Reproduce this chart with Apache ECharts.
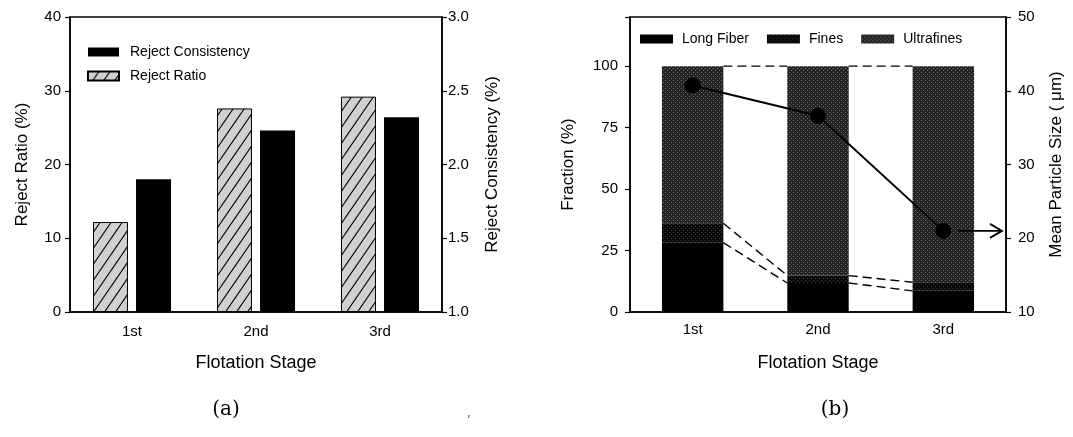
<!DOCTYPE html>
<html>
<head>
<meta charset="utf-8">
<title>Flotation stage</title>
<script src="https://cdn.jsdelivr.net/npm/echarts@6/dist/echarts.min.js"></script>
<style>
  html, body { margin: 0; padding: 0; background: #fff; }
  #chart { width: 1073px; height: 437px; }
</style>
</head>
<body>
<div id="chart"></div>
<script>
const stages = ['1st', '2nd', '3rd']
// (a) reject stream
const rejectRatio = [12.2, 27.6, 29.2]
const rejectConsistency = [1.9, 2.23, 2.32]
// (b) fractions of the reject (%) and mean particle size (um)
const longFiber = [28.2, 11.8, 8.6]
const fines = [7.9, 3.0, 3.5]
const ultrafines = [63.9, 85.2, 87.9]
const meanSize = [40.7, 36.6, 21.0]
const fractionTicks = [0, 25, 50, 75, 100]

const FONT = 'Liberation Sans, Arial, sans-serif'
const BAR_RATIO = 0.49

// hatched fill for reject ratio
function hatch() {
  const c = document.createElement('canvas')
  c.width = 11
  c.height = 16
  const g = c.getContext('2d')
  g.fillStyle = '#d0d0d0'
  g.fillRect(0, 0, 11, 16)
  g.strokeStyle = '#000'
  g.lineWidth = 1.1
  g.beginPath()
  for (let k = -1; k <= 1; k++) {
    g.moveTo(k * 11, 16)
    g.lineTo(k * 11 + 11, 0)
  }
  g.stroke()
  return { image: c, repeat: 'repeat' }
}

// dotted dark fill (scanned stipple look)
function stipple(base, dot) {
  const c = document.createElement('canvas')
  c.width = 4
  c.height = 4
  const g = c.getContext('2d')
  g.fillStyle = base
  g.fillRect(0, 0, 4, 4)
  g.fillStyle = dot
  g.fillRect(1, 0, 1, 1)
  g.fillRect(3, 2, 1, 1)
  return { image: c, repeat: 'repeat' }
}

// dashed connectors between the stack boundaries of neighbouring bars
const levels = [
  longFiber,
  longFiber.map((v, i) => v + fines[i]),
  longFiber.map((v, i) => v + fines[i] + ultrafines[i])
]
const links = []
levels.forEach(lv => {
  for (let i = 0; i < lv.length - 1; i++) links.push([i, lv[i], lv[i + 1]])
})

const last = meanSize.length - 1

const axisText = { color: '#000', fontSize: 15, fontFamily: FONT }
const nameText = { color: '#000', fontSize: 17, fontFamily: FONT }
const blackLine = { show: true, lineStyle: { color: '#000', width: 1.5 } }

function catAxis(grid, margin) {
  return {
    type: 'category',
    gridIndex: grid,
    data: stages,
    axisTick: { show: false },
    axisLine: blackLine,
    axisLabel: Object.assign({ margin: margin }, axisText),
    name: 'Flotation Stage',
    nameLocation: 'middle',
    nameGap: 42,
    nameTextStyle: { color: '#000', fontSize: 18, fontFamily: FONT }
  }
}

function valAxis(grid, pos, min, max, interval, name, gap, margin, fmt) {
  return {
    type: 'value',
    gridIndex: grid,
    position: pos,
    min: min,
    max: max,
    interval: interval,
    splitLine: { show: false },
    axisLine: blackLine,
    axisTick: { show: true, length: 5, lineStyle: { color: '#000', width: 1.2 } },
    axisLabel: Object.assign({ margin: margin, formatter: fmt }, axisText),
    name: name,
    nameLocation: 'middle',
    nameGap: gap,
    nameTextStyle: nameText
  }
}

const chart = echarts.init(document.getElementById('chart'))
chart.setOption({
  animation: false,
  backgroundColor: '#fff',
  textStyle: { fontFamily: FONT },
  grid: [
    { left: 70, right: 631, top: 17, bottom: 125, show: true, borderColor: '#000', borderWidth: 1.5 },
    { left: 630, right: 67, top: 17, bottom: 125, show: true, borderColor: '#000', borderWidth: 1.5 }
  ],
  legend: [{
    data: ['Reject Consistency', 'Reject Ratio'],
    orient: 'vertical',
    left: 87,
    top: 45,
    padding: 0,
    icon: 'rect',
    itemWidth: 31,
    itemHeight: 9,
    itemGap: 10,
    textStyle: { color: '#000', fontSize: 14, padding: [0, 0, 0, 6] }
  }, {
    data: ['Long Fiber', 'Fines', 'Ultrafines'],
    left: 640,
    top: 32,
    padding: 0,
    icon: 'rect',
    itemWidth: 33,
    itemHeight: 9,
    itemGap: 18,
    textStyle: { color: '#000', fontSize: 14, padding: [0, 0, 0, 4] }
  }],
  xAxis: [catAxis(0, 12), catAxis(1, 10)],
  yAxis: [
    valAxis(0, 'left', 0, 40, 10, 'Reject Ratio (%)', 39, 9),
    valAxis(0, 'right', 1, 3, 0.5, 'Reject Consistency (%)', 42, 6, v => v.toFixed(1)),
    valAxis(1, 'left', 0, 120, 25, 'Fraction (%)', 53, 12, v => fractionTicks.includes(v) ? String(v) : ''),
    valAxis(1, 'right', 10, 50, 10, 'Mean Particle Size ( μm)', 42, 12)
  ],
  series: [{
    name: 'Reject Ratio',
    type: 'bar',
    xAxisIndex: 0,
    yAxisIndex: 0,
    barWidth: 35,
    barGap: '23%',
    itemStyle: { color: hatch(), borderColor: '#000', borderWidth: 1 },
    data: rejectRatio
  }, {
    name: 'Reject Consistency',
    type: 'bar',
    xAxisIndex: 0,
    yAxisIndex: 1,
    barWidth: 35,
    itemStyle: { color: '#000' },
    data: rejectConsistency
  }, {
    name: 'Long Fiber',
    type: 'bar',
    stack: 'frac',
    xAxisIndex: 1,
    yAxisIndex: 2,
    barWidth: (BAR_RATIO * 100) + '%',
    itemStyle: { color: '#000' },
    data: longFiber
  }, {
    name: 'Fines',
    type: 'bar',
    stack: 'frac',
    xAxisIndex: 1,
    yAxisIndex: 2,
    itemStyle: { color: stipple('#080808', '#3a3a3a') },
    data: fines
  }, {
    name: 'Ultrafines',
    type: 'bar',
    stack: 'frac',
    xAxisIndex: 1,
    yAxisIndex: 2,
    itemStyle: { color: stipple('#242424', '#6e6e6e') },
    data: ultrafines
  }, {
    type: 'custom',
    xAxisIndex: 1,
    yAxisIndex: 2,
    z: 5,
    clip: false,
    encode: { x: 0, y: 1 },
    renderItem: function(params, api) {
      const i = api.value(0)
      const p0 = api.coord([i, api.value(1)])
      const p1 = api.coord([i + 1, api.value(2)])
      const half = api.size([1, 0])[0] * BAR_RATIO / 2
      return {
        type: 'line',
        shape: { x1: p0[0] + half, y1: p0[1], x2: p1[0] - half, y2: p1[1] },
        style: { stroke: '#000', lineWidth: 1.4, lineDash: [9, 5] }
      }
    },
    data: links
  }, {
    type: 'line',
    xAxisIndex: 1,
    yAxisIndex: 3,
    z: 6,
    symbol: 'circle',
    symbolSize: 16,
    lineStyle: { color: '#000', width: 2 },
    itemStyle: { color: '#000' },
    data: meanSize
  }, {
    // arrow pointing at the size axis
    type: 'custom',
    xAxisIndex: 1,
    yAxisIndex: 3,
    z: 6,
    clip: false,
    renderItem: function(params, api) {
      const p = api.coord([api.value(0), api.value(1)])
      const right = params.coordSys.x + params.coordSys.width - 4
      const st = { stroke: '#000', lineWidth: 1.8, fill: null }
      return {
        type: 'group',
        children: [{
          type: 'line',
          shape: { x1: p[0] + 15, y1: p[1], x2: right, y2: p[1] },
          style: st
        }, {
          type: 'polyline',
          shape: { points: [[right - 12, p[1] - 7], [right, p[1]], [right - 12, p[1] + 7]] },
          style: st
        }]
      }
    },
    data: [[last, meanSize[last]]]
  }],
  graphic: [
    { type: 'text', x: 226, y: 410, style: { text: '(a)', font: '20px DejaVu Serif', fill: '#000', align: 'center', verticalAlign: 'middle' } },
    { type: 'text', x: 835, y: 410, style: { text: '(b)', font: '20px DejaVu Serif', fill: '#000', align: 'center', verticalAlign: 'middle' } },
    { type: 'text', x: 469, y: 413, style: { text: ',', font: '12px DejaVu Serif', fill: '#555', align: 'center', verticalAlign: 'middle' } }
  ]
})
</script>
</body>
</html>
